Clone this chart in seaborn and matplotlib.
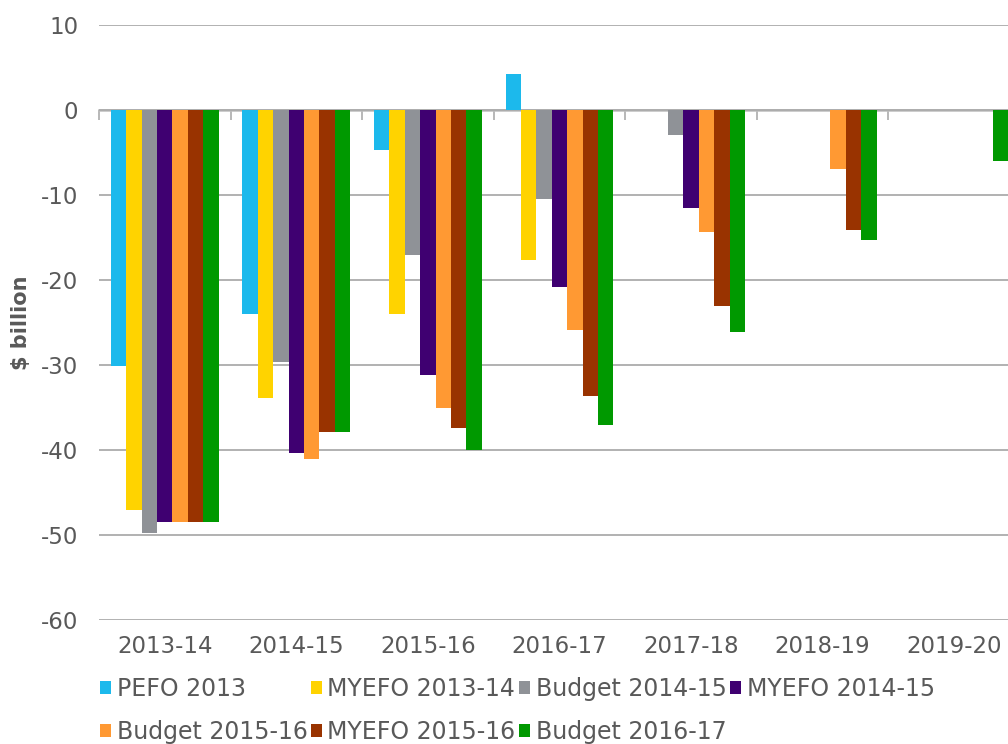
import numpy as np
import pandas as pd
import matplotlib
matplotlib.use('Agg')
import matplotlib.pyplot as plt
import seaborn as sns

years = ['2013-14', '2014-15', '2015-16', '2016-17', '2017-18', '2018-19', '2019-20']
series = ['PEFO 2013', 'MYEFO 2013-14', 'Budget 2014-15', 'MYEFO 2014-15',
          'Budget 2015-16', 'MYEFO 2015-16', 'Budget 2016-17']
nan = np.nan
pefo_2013 = [-30.1, -24.0, -4.7, 4.2, nan, nan, nan]
myefo_2013_14 = [-47.0, -33.9, -24.0, -17.7, nan, nan, nan]
budget_2014_15 = [-49.8, -29.7, -17.1, -10.5, -2.9, nan, nan]
myefo_2014_15 = [-48.5, -40.3, -31.2, -20.8, -11.5, nan, nan]
budget_2015_16 = [-48.5, -41.1, -35.1, -25.9, -14.4, -6.9, nan]
myefo_2015_16 = [-48.5, -37.9, -37.4, -33.7, -23.0, -14.1, nan]
budget_2016_17 = [-48.5, -37.9, -40.0, -37.1, -26.1, -15.3, -6.0]
colors = ['#1CB9EC', '#FFD300', '#8F9297', '#3F0071', '#FF9933', '#993300', '#009900']

values = [pefo_2013, myefo_2013_14, budget_2014_15, myefo_2014_15,
          budget_2015_16, myefo_2015_16, budget_2016_17]
df = pd.DataFrame({
    'year': np.tile(years, len(series)),
    'series': np.repeat(series, len(years)),
    'value': np.concatenate(values),
})

sns.set_style('white')
plt.rcParams['font.family'] = ['DejaVu Sans']
plt.rcParams['axes.unicode_minus'] = False
text_color = '#595959'
grid_color = '#ABABAB'

fig = plt.figure(figsize=(10.08, 7.44), dpi=100)
ax = fig.add_axes([99 / 1008, 1 - 620 / 744, 921 / 1008, 595 / 744])

sns.barplot(data=df, x='year', y='value', hue='series', order=years, hue_order=series,
            palette=colors, saturation=1, width=0.82, gap=0, linewidth=0,
            errorbar=None, ax=ax, legend=True)

ax.set_xlim(-0.5, len(years) - 0.5)
ax.set_ylim(-60, 10)
ax.set_yticks(range(-60, 11, 10))
ax.yaxis.grid(True, color=grid_color, linewidth=1.3)
ax.set_axisbelow(True)
for s in ax.spines.values():
    s.set_visible(False)
ax.tick_params(axis='x', length=0, pad=11, labelsize=16.5, labelcolor=text_color)
ax.tick_params(axis='y', length=0, pad=15, labelsize=16.5, labelcolor=text_color)
ax.set_xlabel('')
ax.set_ylabel('$ billion', fontsize=15, color=text_color, fontweight='bold', labelpad=7)

# category axis crossing at zero with boundary tick marks
zero_axis = ax.secondary_xaxis(0, transform=ax.transData)
zero_axis.set_xticks(np.arange(-0.5, len(years), 1.0))
zero_axis.tick_params(axis='x', direction='out', length=7, width=1.2, color=grid_color,
                      labelbottom=False)
zero_axis.spines['bottom'].set_color('#BDBDBD')
zero_axis.spines['bottom'].set_linewidth(1.8)

handles, labels = ax.get_legend_handles_labels()
ax.get_legend().remove()
order = [0, 4, 1, 5, 2, 6, 3]
fig.legend([handles[i] for i in order], [labels[i] for i in order],
           loc='upper left', bbox_to_anchor=(100 / 1008, 1 - 677 / 744), ncol=4,
           frameon=False, fontsize=17, labelcolor=text_color,
           handlelength=0.45, handleheight=0.45, handletextpad=0.25,
           columnspacing=0.15, labelspacing=0.8, borderaxespad=0, borderpad=0)

fig.savefig('out.png', dpi=100)
